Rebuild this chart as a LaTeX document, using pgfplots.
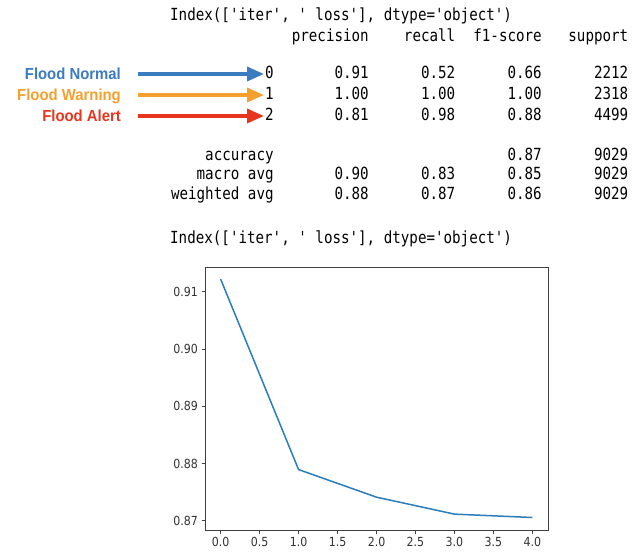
\documentclass[border=0pt]{standalone}
\usepackage{fontspec}
\usepackage{pgfplots}
\pgfplotsset{compat=1.18}
\usetikzlibrary{arrows.meta}
\newfontfamily\mono{DejaVu Sans Mono}[FakeStretch=0.85]
\newfontfamily\tickfont{DejaVu Sans}[FakeStretch=0.88]
\newfontfamily\labfont{Liberation Sans}[FakeStretch=0.93]
\definecolor{fnormal}{HTML}{3B7BBF}
\definecolor{fwarn}{HTML}{F5A02C}
\definecolor{falert}{HTML}{E8361E}
\definecolor{mplblue}{HTML}{2A7DBA}

% right-aligned cell of the text report: end column, baseline (image y), text
\newcommand\cell[3]{\node[mono] at ({170+#1*8.65},{555-#2}) {#3};}

\begin{document}
\begin{tikzpicture}[x=1pt,y=1pt,
  mono/.style={inner sep=0pt, font=\mono\fontsize{16.7}{20}\selectfont, anchor=base east},
  lab/.style={inner sep=0pt, font=\labfont\bfseries\fontsize{16}{20}\selectfont, anchor=base east}]
\useasboundingbox (0,0) rectangle (642,555);

% classification report
\node[mono,anchor=base west] at (170,{555-21}) {Index(['iter', ' loss'], dtype='object')};
\cell{23}{42}{precision}\cell{33}{42}{recall}\cell{43}{42}{f1-score}\cell{53}{42}{support}
\cell{12}{79}{0}\cell{23}{79}{0.91}\cell{33}{79}{0.52}\cell{43}{79}{0.66}\cell{53}{79}{2212}
\cell{12}{100}{1}\cell{23}{100}{1.00}\cell{33}{100}{1.00}\cell{43}{100}{1.00}\cell{53}{100}{2318}
\cell{12}{121}{2}\cell{23}{121}{0.81}\cell{33}{121}{0.98}\cell{43}{121}{0.88}\cell{53}{121}{4499}
\cell{12}{161}{accuracy}\cell{43}{161}{0.87}\cell{53}{161}{9029}
\cell{12}{180}{macro avg}\cell{23}{180}{0.90}\cell{33}{180}{0.83}\cell{43}{180}{0.85}\cell{53}{180}{9029}
\cell{12}{200}{weighted avg}\cell{23}{200}{0.88}\cell{33}{200}{0.87}\cell{43}{200}{0.86}\cell{53}{200}{9029}
\node[mono,anchor=base west] at (170,{555-243}) {Index(['iter', ' loss'], dtype='object')};

% class labels and arrows
\node[lab,text=fnormal] at (121,{555-79.5}) {Flood Normal};
\node[lab,text=fwarn] at (121,{555-100.5}) {Flood Warning};
\node[lab,text=falert] at (121,{555-121.5}) {Flood Alert};
\draw[fnormal,line width=3.5pt,-{Triangle[length=17pt,width=14pt]}] (138,{555-74}) -- (264,{555-74});
\draw[fwarn,line width=3.5pt,-{Triangle[length=17pt,width=14pt]}] (138,{555-95}) -- (264,{555-95});
\draw[falert,line width=3.5pt,-{Triangle[length=17pt,width=14pt]}] (138,{555-116}) -- (264,{555-116});

\begin{axis}[
    at={(205pt,25pt)}, anchor=south west,
    scale only axis, width=343pt, height=263pt,
    xmin=-0.2, xmax=4.2, ymin=0.8684, ymax=0.9143,
    xtick={0,0.5,...,4}, ytick={0.87,0.88,0.89,0.90,0.91},
    scaled ticks=false, tick pos=left, tick align=outside,
    major tick length=3.5pt,
    axis line style={black!75, line width=0.9pt},
    every tick/.style={black!75, line width=0.8pt},
    tick label style={font=\tickfont\fontsize{12.5}{14}\selectfont, text=black!80},
    /pgf/number format/assume math mode=true,
    xticklabel style={/pgf/number format/.cd, fixed, fixed zerofill, precision=1},
    yticklabel style={/pgf/number format/.cd, fixed, fixed zerofill, precision=2},
]
\addplot[mplblue, line width=1.5pt] coordinates {
    (0,0.9122) (1,0.87895) (2,0.87413) (3,0.87117) (4,0.87058)
};
\end{axis}
\end{tikzpicture}
\end{document}
